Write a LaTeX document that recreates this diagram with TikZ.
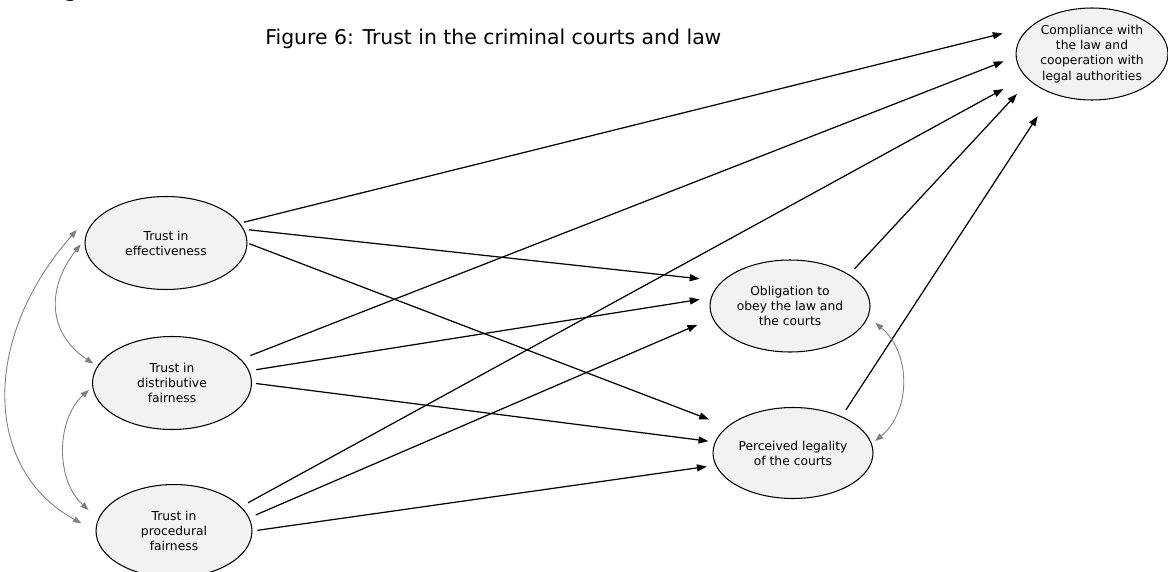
\documentclass[tikz,border=0pt]{standalone}
\usepackage{fontspec}
\setmainfont{DejaVu Sans}
\usetikzlibrary{shapes.geometric,arrows.meta}
\definecolor{ellfill}{HTML}{F2F2F2}
\definecolor{corrgray}{HTML}{808080}
\begin{document}
\begin{tikzpicture}[x=0.02cm,y=-0.02cm,
  construct/.style={ellipse, draw=black, line width=0.6pt, fill=ellfill,
    inner sep=0pt, align=center, font=\fontsize{7}{8.6}\selectfont},
  causal/.style={-{Triangle[length=5.6pt,width=4pt]}, line width=0.7pt, draw=black},
  corr/.style={{Triangle[length=4.6pt,width=3.4pt]}-{Triangle[length=4.6pt,width=3.4pt]},
    line width=0.5pt, draw=corrgray},
]
% canvas, one unit per pixel, y running downwards
\fill[white] (0,0) rectangle (1168,571);
\useasboundingbox (0,0) rectangle (1168,571);

% running text cut by the top edge, and the figure title
\node[anchor=base west, inner sep=0pt, font=\fontsize{13.6}{16}\selectfont] (runin) at (35,-3) {(Figure 6)};
\node[anchor=base west, inner sep=0pt, font=\fontsize{11.6}{14}\selectfont] (title) at (265,45)
  {Figure 6: Trust in the criminal courts and law};

% constructs
\node[construct, minimum width=3.24cm, minimum height=1.86cm] (eff) at (166,243) {Trust in\\effectiveness};
\node[construct, minimum width=3.18cm, minimum height=1.86cm] (dis) at (172,383) {Trust in\\distributive\\fairness};
\node[construct, minimum width=3.12cm, minimum height=1.86cm] (pro) at (174,531) {Trust in\\procedural\\fairness};
\node[construct, minimum width=3.2cm, minimum height=1.84cm] (obl) at (790,306) {Obligation to\\obey the law and\\the courts};
\node[construct, minimum width=3.2cm, minimum height=1.82cm] (leg) at (793,453) {Perceived legality\\of the courts};
\node[construct, minimum width=3.04cm, minimum height=1.84cm] (comp) at (1092,54) {Compliance with\\the law and\\cooperation with\\legal authorities};

% paths from trust in effectiveness
\draw[causal, shorten <=2.3pt, shorten >=16.2pt] (eff.15) -- (comp.156);
\draw[causal, shorten <=2.8pt, shorten >=12.8pt] (eff.10) -- (obl.160);
\draw[causal, shorten <=1.1pt, shorten >=11.1pt] (eff.0) -- (leg.158);
% paths from trust in distributive fairness
\draw[causal, shorten <=5.7pt, shorten >=7.4pt] (dis.19) -- (comp.182);
\draw[causal, shorten <=4pt, shorten >=6.4pt] (dis.9) -- (obl.174);
\draw[causal, shorten <=2.3pt, shorten >=3.7pt] (dis.0) -- (leg.172);
% paths from trust in procedural fairness
\draw[causal, shorten <=4.5pt, shorten >=14.3pt] (pro.20) -- (comp.199);
\draw[causal, shorten <=4pt, shorten >=9.3pt] (pro.10) -- (obl.189);
\draw[causal, shorten <=2.8pt, shorten >=5pt] (pro.0) -- (leg.189);
% paths from the mediators
\draw[causal, shorten <=4.3pt, shorten >=10.3pt] (obl.28) -- (comp.203);
\draw[causal, shorten <=4.5pt, shorten >=15.2pt] (leg.37) -- (comp.225);

% correlations
\draw[corr] ([shift={(-4,0)}]eff.181) .. controls +(-35,45) and +(-45,-30) .. ([shift={(-5,-1)}]dis.166);
\draw[corr] ([shift={(-4,0)}]dis.185) .. controls +(-33,30) and +(-33,-30) .. ([shift={(-13,-3)}]pro.166);
\draw[corr] ([shift={(-10,-2)}]eff.172) .. controls +(-97,110) and +(-97,-53) .. ([shift={(-15,-1)}]pro.175);
\draw[corr] ([shift={(9,2)}]obl.349) .. controls +(36,30) and +(36,-30) .. ([shift={(4,-1)}]leg.8);
\end{tikzpicture}
\end{document}
